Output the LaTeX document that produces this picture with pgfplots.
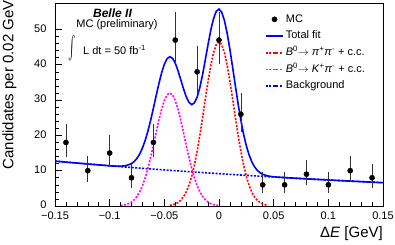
\documentclass[border=0pt]{standalone}
\usepackage{graphicx}
\usepackage{pgfplots}
\pgfplotsset{compat=1.18}
\usepackage{fontspec}
\setmainfont{Liberation Sans}
\definecolor{rblue}{RGB}{0,0,255}
\definecolor{rred}{RGB}{255,0,0}
\definecolor{rmag}{RGB}{255,0,255}
\pgfplotstableread{
x y ep em
-0.14 18 5.32 4.20
-0.12 10 4.27 3.11
-0.10 15 4.97 3.82
-0.08 8 3.96 2.77
-0.06 18 5.32 4.20
-0.04 47 7.90 6.83
-0.02 38 7.21 6.14
0.00 47 7.90 6.83
0.02 26 6.14 5.06
0.04 6 3.58 2.38
0.06 6 3.58 2.38
0.08 9 4.13 2.94
0.10 6 3.58 2.38
0.12 10 4.27 3.11
0.14 8 3.96 2.77
}\mcdata
\begin{document}
\begin{tikzpicture}
\begin{axis}[
  at={(0,0)}, anchor=south west,
  scale only axis, width=328pt, height=203pt,
  xmin=-0.15, xmax=0.15, ymin=0, ymax=57.5,
  axis line style={line width=0.9pt},
  tick pos=left, tick align=inside,
  major tick length=7pt, minor tick length=3.5pt,
  every tick/.style={black, line width=0.6pt},
  xtick={-0.15,-0.1,-0.05,0,0.05,0.1,0.15},
  xticklabels={−0.15,−0.1,−0.05,0,0.05,0.1,0.15},
  minor x tick num=4,
  ytick={0,10,20,30,40,50}, minor y tick num=4,
  /pgf/number format/assume math mode=true,
  tick label style={font=\fontsize{11}{13}\selectfont},
  xticklabel style={yshift=-2pt},
  yticklabel style={xshift=-5pt, yshift=1pt},
  xlabel={Δ\textit{E} [GeV]},
  xlabel style={at={(axis description cs:1,0)}, anchor=base east, inner sep=0pt, yshift=-31.5pt, font=\fontsize{15}{18}\selectfont},
  ylabel={Candidates per 0.02 GeV},
  ylabel style={at={([xshift=-41.6pt,yshift=3pt]axis description cs:0,1)}, anchor=base east, inner sep=0pt, font=\fontsize{15}{18}\selectfont},
  legend style={at={(rel axis cs:0.631,0.966)}, anchor=north west, draw=none, fill=none,
    font=\fontsize{11}{13}\selectfont, row sep=2.2pt,
    nodes={inner sep=2pt, text height=8pt, text depth=2.5pt}},
  legend cell align=left,
  clip=true,
]
% background
\addplot[rblue, line width=1.6pt, dash pattern=on 2pt off 1.5pt, forget plot] coordinates {
(-0.15,12.71) (-0.12,11.90) (-0.09,11.15) (-0.06,10.44) (-0.03,9.78) (0,9.16)
(0.03,8.58) (0.06,8.04) (0.09,7.53) (0.12,7.05) (0.15,6.60)};
% B0 -> pi pi
\addplot[rred, line width=1.6pt, dash pattern=on 2pt off 1.5pt, forget plot] coordinates {
(-0.045,0.18) (-0.0425,0.33) (-0.04,0.58) (-0.0375,0.98) (-0.035,1.61) (-0.0325,2.56)
(-0.03,3.94) (-0.0275,5.84) (-0.025,8.37) (-0.0225,11.60) (-0.02,15.52) (-0.0175,20.07)
(-0.015,25.08) (-0.0125,30.29) (-0.01,35.34) (-0.0075,39.85) (-0.005,43.42) (-0.0025,45.71)
(0,46.5)
(0.0025,45.71) (0.005,43.42) (0.0075,39.85) (0.01,35.34) (0.0125,30.29) (0.015,25.08)
(0.0175,20.07) (0.02,15.52) (0.0225,11.60) (0.025,8.37) (0.0275,5.84) (0.03,3.94)
(0.0325,2.56) (0.035,1.61) (0.0375,0.98) (0.04,0.58) (0.0425,0.33) (0.045,0.18)};
% B0 -> K pi
\addplot[rmag, line width=1.6pt, dash pattern=on 2pt off 1.5pt, forget plot] coordinates {
(-0.09,0.12) (-0.0875,0.23) (-0.085,0.40) (-0.0825,0.68) (-0.08,1.11) (-0.0775,1.76)
(-0.075,2.71) (-0.0725,4.02) (-0.07,5.76) (-0.0675,7.98) (-0.065,10.68) (-0.0625,13.81)
(-0.06,17.26) (-0.0575,20.84) (-0.055,24.32) (-0.0525,27.42) (-0.05,29.88) (-0.0475,31.46)
(-0.045,32)
(-0.0425,31.46) (-0.04,29.88) (-0.0375,27.42) (-0.035,24.32) (-0.0325,20.84) (-0.03,17.26)
(-0.0275,13.81) (-0.025,10.68) (-0.0225,7.98) (-0.02,5.76) (-0.0175,4.02) (-0.015,2.71)
(-0.0125,1.76) (-0.01,1.11) (-0.0075,0.68) (-0.005,0.40) (-0.0025,0.23) (0,0.12)};
% total fit
\addplot[rblue, line width=1.6pt, forget plot] coordinates {
(-0.15,12.71) (-0.14,12.43) (-0.13,12.16) (-0.12,11.90) (-0.11,11.64) (-0.10,11.39)
(-0.095,11.30) (-0.09,11.27) (-0.085,11.43) (-0.08,12.02) (-0.0775,12.61) (-0.075,13.50)
(-0.0725,14.75) (-0.07,16.43) (-0.0675,18.59) (-0.065,21.23) (-0.0625,24.31) (-0.06,27.70)
(-0.0575,31.22) (-0.055,34.64) (-0.0525,37.69) (-0.05,40.14) (-0.0475,41.72) (-0.045,42.28)
(-0.0425,41.84) (-0.04,40.45) (-0.0375,38.34) (-0.035,35.81) (-0.0325,33.23) (-0.03,30.98)
(-0.0275,29.38) (-0.025,28.72) (-0.0225,29.20) (-0.02,30.85) (-0.0175,33.61) (-0.015,37.25)
(-0.0125,41.46) (-0.01,45.81) (-0.0075,49.84) (-0.005,53.08) (-0.0025,55.15) (0,55.78)
(0.0025,54.89) (0.005,52.51) (0.0075,48.86) (0.01,44.30) (0.0125,39.20) (0.015,33.95)
(0.0175,28.89) (0.02,24.29) (0.0225,20.32) (0.025,17.05) (0.0275,14.47) (0.03,12.52)
(0.0325,11.09) (0.035,10.10) (0.0375,9.42) (0.04,8.98) (0.045,8.48) (0.05,8.26)
(0.06,8.04) (0.07,7.86) (0.08,7.69) (0.09,7.53) (0.10,7.37) (0.11,7.21) (0.12,7.05)
(0.13,6.90) (0.14,6.75) (0.15,6.60)};
% MC data
\addplot[only marks, mark=*, mark size=2.6pt, black, forget plot,
  error bars/.cd, y dir=both, y explicit,
  error bar style={line width=0.7pt, black!80}, error mark=none]
  table[x=x, y=y, y error plus=ep, y error minus=em] {\mcdata};
% legend
\addlegendimage{only marks, mark=*, mark size=2.6pt, black}
\addlegendentry{MC}
\addlegendimage{rblue, line width=1.6pt}
\addlegendentry{Total fit}
\addlegendimage{rred, line width=1.6pt, dash pattern=on 2pt off 1.5pt}
\addlegendentry{\textit{B}\textsuperscript{0}$\rightarrow$ \textit{π}\textsuperscript{+}\textit{π}\textsuperscript{-} + c.c.}
\addlegendimage{rmag, line width=1.6pt, dash pattern=on 2pt off 1.5pt}
\addlegendentry{\textit{B}\textsuperscript{0}$\rightarrow$ \textit{K}\textsuperscript{+}\textit{π}\textsuperscript{-} + c.c.}
\addlegendimage{rblue, line width=1.6pt, dash pattern=on 2pt off 1.5pt}
\addlegendentry{Background}
\end{axis}
% labels (picture coordinates: axis lower-left at origin, 1pt = 1px)
\node[font=\fontsize{12}{14}\selectfont\bfseries\itshape, inner sep=0pt] at (57.5pt,193pt) {Belle II};
\node[font=\fontsize{11}{13}\selectfont, inner sep=0pt] at (62pt,181pt) {MC (preliminary)};
\node[inner sep=0pt] at (17pt,158pt) {\scalebox{1.1}[2.3]{$\int$}};
\node[font=\fontsize{11}{13}\selectfont, anchor=west, inner sep=0pt] at (28pt,156pt) {L dt = 50 fb\textsuperscript{-1}};
\pgfresetboundingbox
\useasboundingbox (-55pt,-39pt) rectangle (340pt,206pt);
\end{tikzpicture}
\end{document}
